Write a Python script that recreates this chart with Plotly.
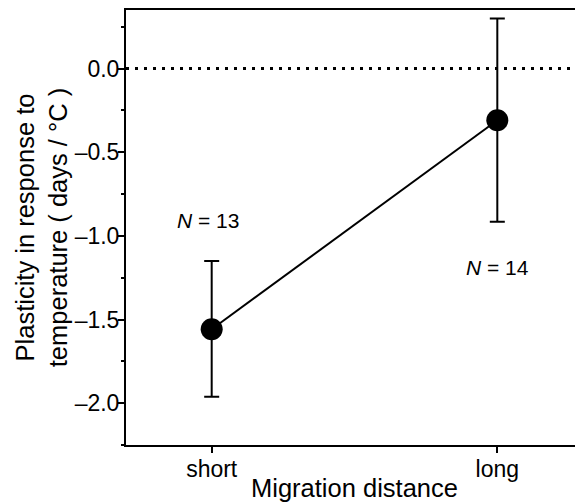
import plotly.graph_objects as go

categories = ["short", "long"]
means = [-1.558, -0.309]
upper = [-1.150, 0.299]
lower = [-1.961, -0.916]
n_labels = ["<i>N</i> = 13", "<i>N</i> = 14"]
n_label_y = [-0.91, -1.19]
y_tick_vals = [0, -0.5, -1.0, -1.5, -2.0]
y_tick_text = ["0.0", "\u20130.5", "\u20131.0", "\u20131.5", "\u20132.0"]

err_plus = [u - m for u, m in zip(upper, means)]
err_minus = [m - l for m, l in zip(means, lower)]

FONT = "Liberation Sans, Arial, sans-serif"

fig = go.Figure()
fig.add_trace(go.Scatter(
    x=categories, y=means, mode="lines+markers",
    line=dict(color="black", width=2),
    marker=dict(color="black", size=22),
    error_y=dict(type="data", symmetric=False, array=err_plus, arrayminus=err_minus,
                 color="black", thickness=2, width=7.5),
    showlegend=False,
))

fig.add_hline(y=0, line=dict(color="black", width=3, dash="3px,6px"))

shifts = [-4, 0]
for c, t, yy, sh in zip(categories, n_labels, n_label_y, shifts):
    fig.add_annotation(x=c, y=yy, text=t, showarrow=False, xshift=sh,
                       font=dict(family=FONT, size=21, color="black"))

fig.add_shape(type="line", xref="paper", yref="paper", x0=1, x1=1, y0=0, y1=1,
              line=dict(color="#bbbbbb", width=1))

fig.update_layout(
    width=575, height=494,
    margin=dict(l=118, r=0, t=2, b=57),
    paper_bgcolor="white", plot_bgcolor="white",
    font=dict(family=FONT, color="black"),
    xaxis=dict(
        type="category", range=[-0.3, 1.3],
        showline=True, linecolor="black", linewidth=2, mirror=True,
        ticks="outside", ticklen=6, tickwidth=1.5, tickcolor="black",
        tickfont=dict(size=23), showgrid=False, zeroline=False,
        ticklabelstandoff=-4,
        title=dict(text="Migration distance", font=dict(size=25.5), standoff=0),
    ),
    yaxis=dict(
        range=[-2.25, 0.35],
        tickvals=y_tick_vals,
        ticktext=y_tick_text,
        showline=True, linecolor="black", linewidth=2,
        ticks="outside", ticklen=6, tickwidth=1.5, tickcolor="black",
        minor=dict(dtick=0.25, tick0=0, ticks="outside", ticklen=3, tickwidth=1.5, tickcolor="black", showgrid=False),
        tickfont=dict(size=23), showgrid=False, zeroline=False,
        ticklabelstandoff=-6,
        title=dict(text="Plasticity in response to<br>temperature ( days / \u00b0C )", font=dict(size=25.5), standoff=0),
    ),
)

fig.write_html("out.html")
